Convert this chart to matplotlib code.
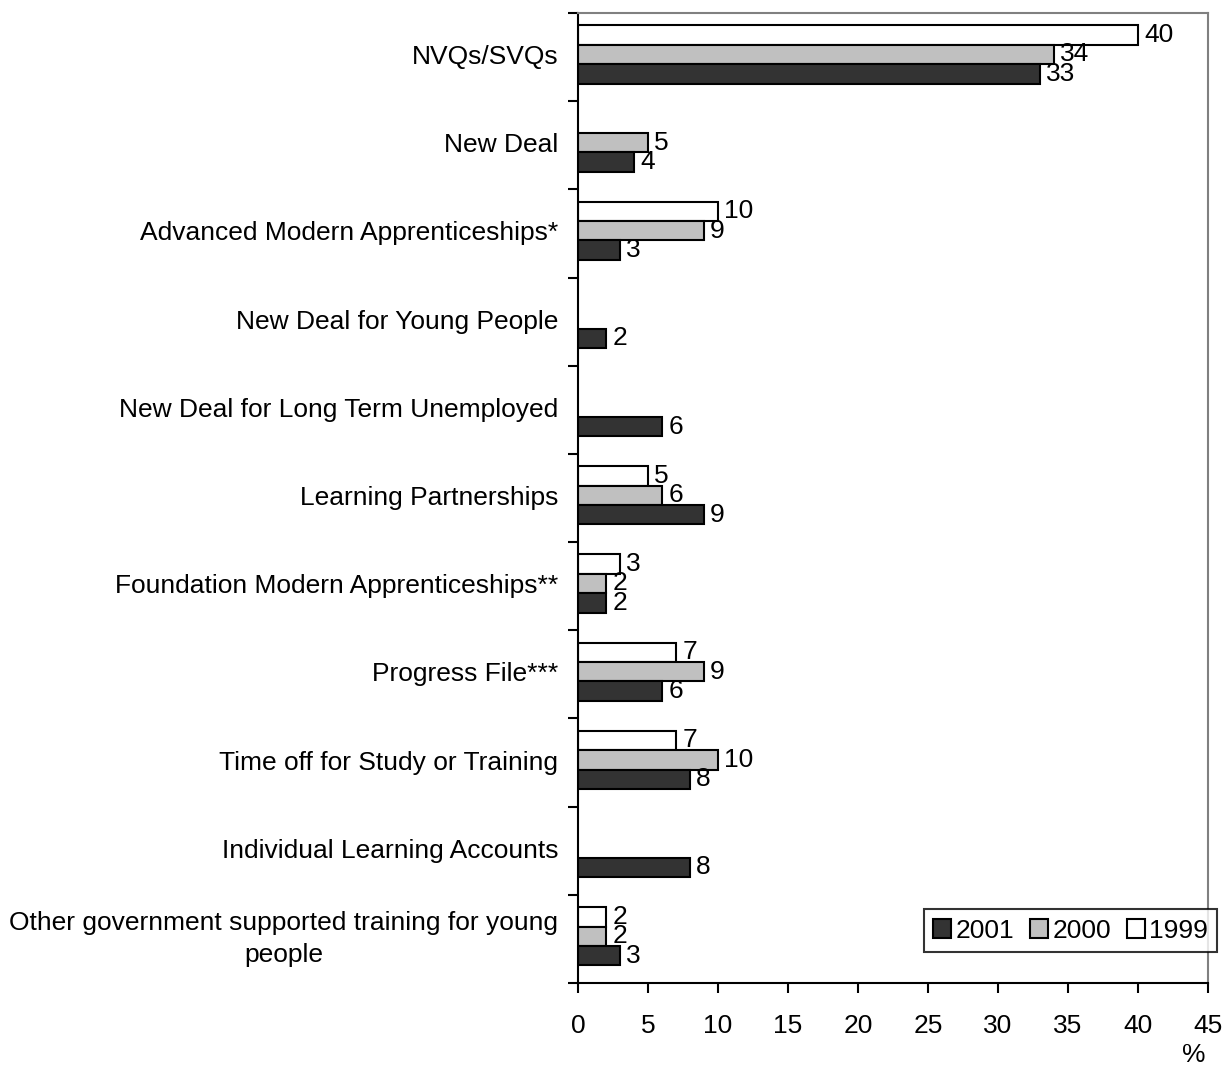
import numpy as np
import matplotlib.pyplot as plt

plt.rcParams['font.family'] = ['Liberation Sans', 'DejaVu Sans']

# data
categories = ["NVQs/SVQs", "New Deal", "Advanced Modern Apprenticeships*",
              "New Deal for Young People", "New Deal for Long Term Unemployed",
              "Learning Partnerships", "Foundation Modern Apprenticeships**",
              "Progress File***", "Time off for Study or Training",
              "Individual Learning Accounts",
              "Other government supported training for young\npeople"]
v2001 = [33, 4, 3, 2, 6, 9, 2, 6, 8, 8, 3]
v2000 = [34, 5, 9, None, None, 6, 2, 9, 10, None, 2]
v1999 = [40, None, 10, None, None, 5, 3, 7, 7, None, 2]

series = [("1999", v1999, "white", -0.22),
          ("2000", v2000, "#c0c0c0", 0.0),
          ("2001", v2001, "#333333", 0.22)]

fs = 19
fig = plt.figure(figsize=(12.27, 10.71), dpi=100)
ax = fig.add_axes([0.471, 0.0822, 0.5135, 0.9057])

y = np.arange(len(categories))
handles = {}
for name, vals, col, off in series:
    for i, v in enumerate(vals):
        if v is None:
            continue
        b = ax.barh(y[i] + off - 0.03, v, height=0.22, color=col, edgecolor="black",
                    linewidth=1.5)
        handles[name] = b
        ax.text(v + 0.45, y[i] + off - 0.03, str(v), va="center", ha="left", fontsize=fs)

ax.set_ylim(len(categories) - 0.5, -0.5)
ax.set_xlim(0, 45)
ax.set_xticks(np.arange(0, 46, 5))
ax.set_yticks(np.arange(-0.5, len(categories), 1))
ax.set_yticklabels([])
ax.tick_params(axis="both", direction="out", length=7, width=1.5, labelsize=fs)
ax.tick_params(axis="x", pad=15)
for i, c in enumerate(categories):
    ax.text(-1.4, y[i], c, ha="right", va="center", fontsize=fs,
            multialignment="center", linespacing=1.45)

ax.spines["left"].set_linewidth(1.5)
ax.spines["bottom"].set_linewidth(1.5)
ax.spines["top"].set_color("#808080")
ax.spines["right"].set_color("#808080")
ax.spines["top"].set_linewidth(1.5)
ax.spines["right"].set_linewidth(1.5)

leg = fig.legend([handles["2001"], handles["2000"], handles["1999"]],
                 ["2001", "2000", "1999"], ncol=3, fontsize=fs,
                 loc="upper right", bbox_to_anchor=(0.992, 0.151),
                 frameon=True, fancybox=False, edgecolor="black",
                 handlelength=0.7, handleheight=0.7, handletextpad=0.15,
                 columnspacing=0.6, borderpad=0.35, borderaxespad=0)
leg.get_frame().set_linewidth(1.5)

fig.text(0.973, 0.004, "%", ha="center", va="bottom", fontsize=fs)

fig.savefig("out.png", dpi=100)
